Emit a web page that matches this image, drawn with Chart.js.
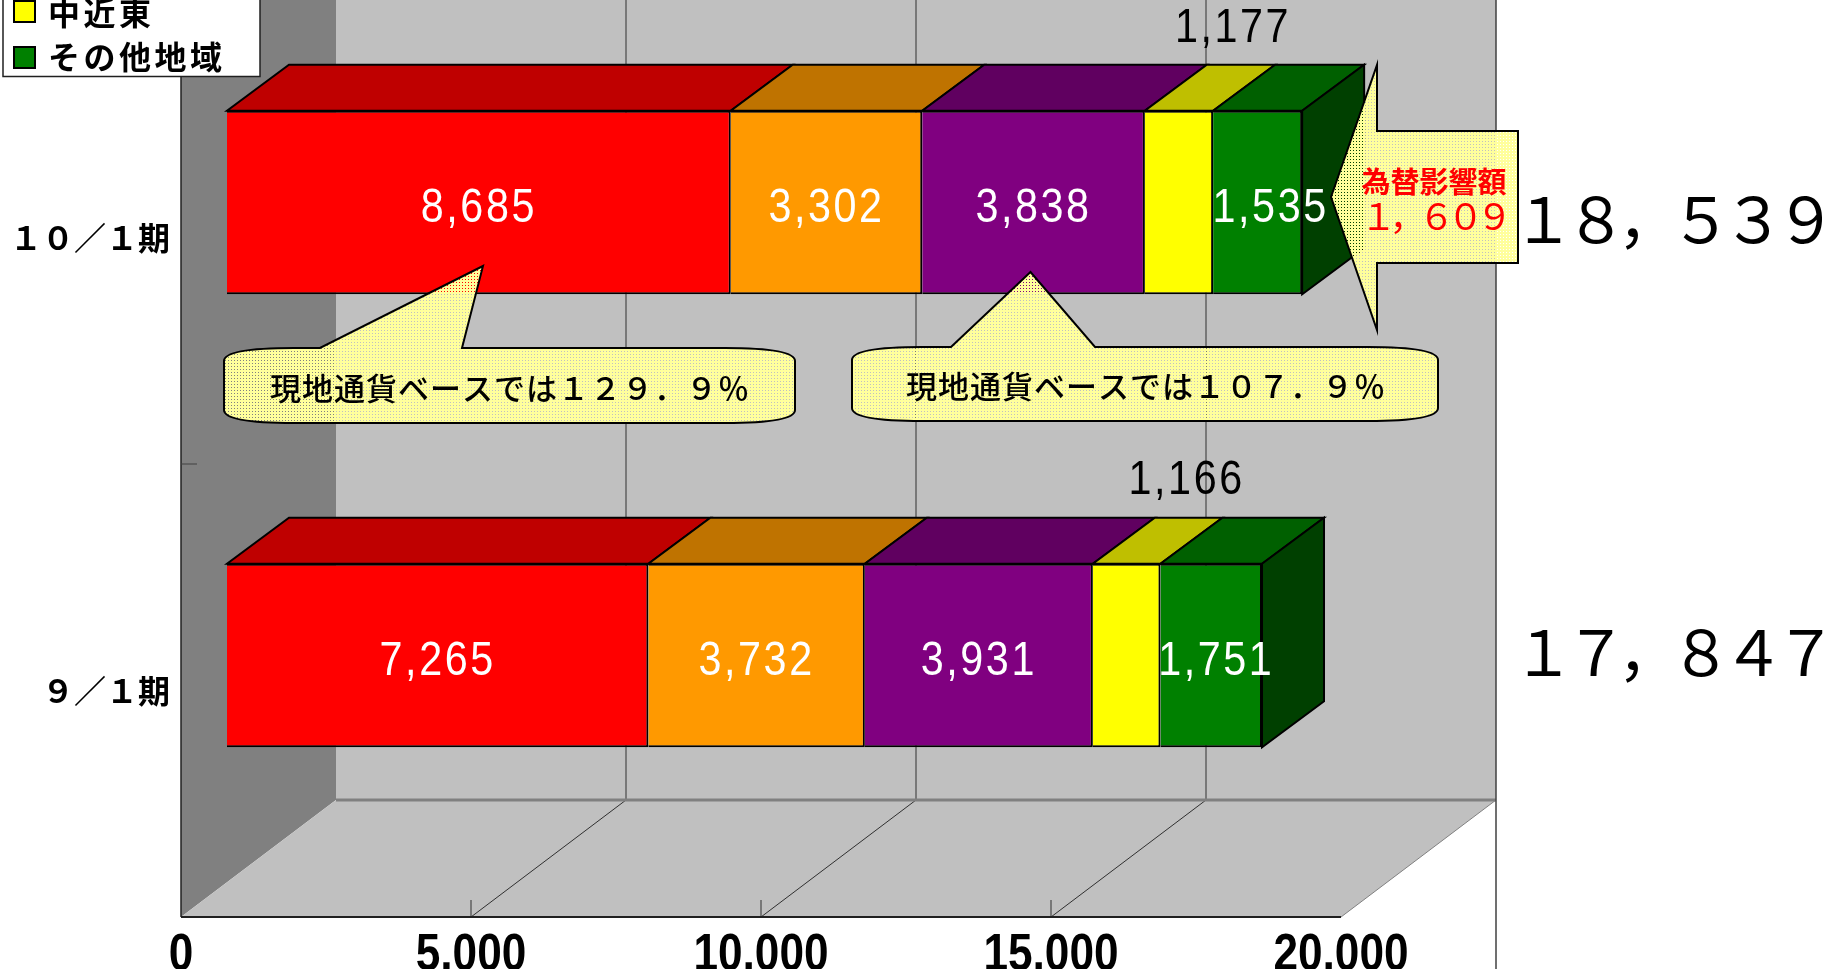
<!DOCTYPE html>
<html>
<head>
<meta charset="utf-8">
<title>chart</title>
<script src="https://cdn.jsdelivr.net/npm/chart.js@4/dist/chart.umd.min.js"></script>
<style>
  html, body { margin: 0; padding: 0; background: #fff; overflow: hidden; }
  canvas { display: block; }
</style>
</head>
<body>
<canvas id="chart" width="1843" height="969"></canvas>
<script>
const periods = ['１０／１期', '９／１期'];
const redValues = [8685, 7265];
const orangeValues = [3302, 3732];
const purpleValues = [3838, 3931];
const nearEastValues = [1177, 1166];
const otherValues = [1535, 1751];
const seriesNames = ['', '', '', '中近東', 'その他地域'];
const totals = ['１８，５３９', '１７，８４７'];
const fxTitle = '為替影響額';
const fxAmount = '１，６０９';
const noteFor10 = '現地通貨ベースでは１２９．９％';
const noteFor9 = '現地通貨ベースでは１０７．９％';
const xTicks = [0, 5000, 10000, 15000, 20000];

const faceColours = ['#FF0000', '#FF9900', '#800080', '#FFFF00', '#008000'];
const topColours = ['#BF0000', '#BF7300', '#600060', '#BFBF00', '#006000'];
const sideColour = '#004000';

// oblique projection: walls run from the front plane to the back by wallDepth,
// bars sit barOffset behind the front plane and are barDepth deep
const wallDepth = {x: 155, y: 117};
const barOffset = {x: 46, y: -35};
const barDepth = {x: 62, y: 46};

const CJK = '"Noto Sans CJK JP"';
const LATIN = '"Liberation Sans"';

// sx squeezes the glyphs sideways, the source text is taller than it is wide
function text(ctx, str, x, y, font, colour, spacing, align, sx) {
    ctx.save();
    ctx.translate(x, y);
    ctx.scale(sx || 1, 1);
    ctx.font = font;
    ctx.fillStyle = colour;
    ctx.letterSpacing = (spacing || 0) + 'px';
    ctx.textAlign = align || 'center';
    ctx.textBaseline = 'middle';
    ctx.fillText(str, 0, 0);
    ctx.restore();
}

function poly(ctx, pts, fill, stroke, width) {
    ctx.beginPath();
    pts.forEach((p, i) => i ? ctx.lineTo(p[0], p[1]) : ctx.moveTo(p[0], p[1]));
    ctx.closePath();
    if (fill) { ctx.fillStyle = fill; ctx.fill(); }
    if (stroke) { ctx.strokeStyle = stroke; ctx.lineWidth = width || 1; ctx.stroke(); }
}

function line(ctx, x1, y1, x2, y2, colour, width) {
    ctx.beginPath();
    ctx.moveTo(x1, y1);
    ctx.lineTo(x2, y2);
    ctx.strokeStyle = colour;
    ctx.lineWidth = width || 1;
    ctx.stroke();
}

// the callouts in the source are a dithered light yellow, background shows through
function ditherFill(ctx) {
    const c = document.createElement('canvas');
    c.width = c.height = 3;
    const p = c.getContext('2d');
    p.fillStyle = '#FFFF9C';
    p.fillRect(0, 0, 3, 3);
    p.clearRect(0, 0, 1, 1);
    return ctx.createPattern(c, 'repeat');
}

function drawWalls(chart) {
    const {ctx, chartArea: a, scales: {x}} = chart;
    const dx = wallDepth.x, dy = wallDepth.y;
    const farRight = a.right + dx;
    const farBottom = a.bottom - dy;

    poly(ctx, [[a.left + dx, a.top - dy], [farRight, a.top - dy], [farRight, farBottom], [a.left + dx, farBottom]], '#C0C0C0');
    poly(ctx, [[a.left, a.top], [a.left + dx, a.top - dy], [a.left + dx, farBottom], [a.left, a.bottom]], '#808080');
    poly(ctx, [[a.left, a.bottom], [a.left + dx, farBottom], [farRight, farBottom], [a.right, a.bottom]], '#C0C0C0');

    x.ticks.forEach(t => {
        const px = x.getPixelForValue(t.value);
        if (t.value > 0 && t.value < 20000) {
            line(ctx, px + dx, 0, px + dx, farBottom, '#303030');
            line(ctx, px, a.bottom, px + dx, farBottom, '#303030');
            line(ctx, px, a.bottom, px, a.bottom - 17, '#303030');
        }
    });
    line(ctx, a.left + dx, farBottom, farRight, farBottom, '#808080', 3);
    line(ctx, a.right, a.bottom, farRight, farBottom, '#808080');
    line(ctx, farRight, 0, farRight, chart.height, '#404040', 1.5);
    line(ctx, a.left, 0, a.left, a.bottom, '#202020', 1.5);
    line(ctx, a.left, a.bottom, a.right, a.bottom, '#202020', 2);
    const mid = (a.top + a.bottom) / 2;
    line(ctx, a.left, mid, a.left + 16, mid, '#404040');
}

function drawBarDepth(chart) {
    const ctx = chart.ctx;
    const n = chart.data.datasets.length;
    for (let i = 0; i < n; i++) {
        chart.getDatasetMeta(i).data.forEach(bar => {
            const top = bar.y - bar.height / 2;
            const bottom = bar.y + bar.height / 2;
            poly(ctx, [[bar.base, top], [bar.x, top], [bar.x + barDepth.x, top - barDepth.y], [bar.base + barDepth.x, top - barDepth.y]],
                topColours[i], '#000', 2);
            if (i === n - 1) {
                poly(ctx, [[bar.x, top], [bar.x + barDepth.x, top - barDepth.y], [bar.x + barDepth.x, bottom - barDepth.y], [bar.x, bottom]],
                    sideColour, '#000', 2);
            }
        });
    }
}

function drawValueLabels(chart) {
    const ctx = chart.ctx;
    const font = '48px ' + LATIN;
    // nudges for labels that were dragged by hand in the source
    const nudge = {'4-0': [13, 0], '4-1': [5, 0]};
    const above = [[54, -82], [60, -83]];
    chart.data.datasets.forEach((ds, i) => {
        chart.getDatasetMeta(i).data.forEach((bar, j) => {
            const str = ds.data[j].toLocaleString('en-US');
            if (i === 3) {
                // yellow piece is too narrow, its label stands above the bar
                const top = bar.y - bar.height / 2;
                text(ctx, str, (bar.x + bar.base) / 2 + barOffset.x + above[j][0], top + barOffset.y + above[j][1], font, '#000', 3, 'center', 0.86);
                return;
            }
            const n = nudge[i + '-' + j] || [0, 0];
            text(ctx, str, (bar.x + bar.base) / 2 + barOffset.x + n[0], bar.y + barOffset.y + 6 + n[1], font, '#fff', 3, 'center', 0.86);
        });
    });
}

function drawXTickLabels(chart) {
    const {ctx, scales: {x}, chartArea: a} = chart;
    x.ticks.forEach(t => {
        text(ctx, t.value.toLocaleString('en-US'), x.getPixelForValue(t.value), a.bottom + 39, 'bold 52px ' + LATIN, '#000', 0, 'center', 0.85);
    });
}

function roundBox(ctx, l, t, r, b, cx, cy, pointer) {
    ctx.beginPath();
    ctx.moveTo(l, t + cy);
    ctx.quadraticCurveTo(l, t, l + cx, t);
    ctx.lineTo(pointer.from, t);
    ctx.lineTo(pointer.tipX, pointer.tipY);
    ctx.lineTo(pointer.to, t);
    ctx.lineTo(r - cx, t);
    ctx.quadraticCurveTo(r, t, r, t + cy);
    ctx.lineTo(r, b - cy);
    ctx.quadraticCurveTo(r, b, r - cx, b);
    ctx.lineTo(l + cx, b);
    ctx.quadraticCurveTo(l, b, l, b - cy);
    ctx.closePath();
}

function drawCallouts(chart) {
    const ctx = chart.ctx;
    const fill = ditherFill(ctx);

    roundBox(ctx, 224, 348, 795, 423, 70, 13, {from: 320, tipX: 483, tipY: 266, to: 462});
    ctx.fillStyle = fill; ctx.fill();
    ctx.strokeStyle = '#000'; ctx.lineWidth = 2; ctx.stroke();
    text(ctx, noteFor10, 510, 388, '500 31px ' + CJK, '#000', 1);

    roundBox(ctx, 852, 347, 1438, 421, 70, 13, {from: 951, tipX: 1030.5, tipY: 272, to: 1095});
    ctx.fillStyle = fill; ctx.fill();
    ctx.strokeStyle = '#000'; ctx.lineWidth = 2; ctx.stroke();
    text(ctx, noteFor9, 1146, 386, '500 31px ' + CJK, '#000', 1);

    poly(ctx, [[1331, 197], [1377, 65], [1377, 131], [1518, 131], [1518, 263], [1377, 263], [1377, 330]], fill, '#000', 2);
    text(ctx, fxTitle, 1434, 182, 'bold 29px ' + CJK, '#FF0000', 0);
    text(ctx, fxAmount, 1433, 216, '36px ' + CJK, '#FF0000', -7);
}

function drawLegendBox(chart) {
    const ctx = chart.ctx;
    const ds = chart.data.datasets;
    poly(ctx, [[3, -4], [260, -4], [260, 76.5], [3, 76.5]], '#fff', '#202020', 1.5);
    [[3, 1, 13], [4, 47, 57]].forEach(e => {
        ctx.fillStyle = ds[e[0]].backgroundColor;
        ctx.fillRect(14, e[1], 21, 21);
        ctx.strokeStyle = '#000';
        ctx.lineWidth = 2;
        ctx.strokeRect(14, e[1], 21, 21);
        text(ctx, ds[e[0]].label, 48, e[2], 'bold 32px ' + CJK, '#000', 3.5, 'left');
    });
}

const depthPlugin = {
    id: 'depth',
    beforeDatasetsDraw(chart) {
        drawWalls(chart);
        chart.ctx.save();
        chart.ctx.translate(barOffset.x, barOffset.y);
        drawBarDepth(chart);
    },
    afterDatasetsDraw(chart) {
        chart.ctx.restore();
    },
    afterDraw(chart) {
        const ctx = chart.ctx;
        drawXTickLabels(chart);
        drawValueLabels(chart);
        drawCallouts(chart);
        text(ctx, totals[0], 1670, 219, '62px ' + CJK, '#000', -9.5);
        text(ctx, totals[1], 1670, 652, '62px ' + CJK, '#000', -9.5);
        drawLegendBox(chart);
    }
};

const seriesValues = [redValues, orangeValues, purpleValues, nearEastValues, otherValues];

new Chart(document.getElementById('chart'), {
    type: 'bar',
    data: {
        labels: periods,
        datasets: seriesValues.map((values, i) => ({
            label: seriesNames[i],
            data: values,
            backgroundColor: faceColours[i],
            borderColor: '#000',
            borderWidth: 2,
            barPercentage: 0.405,
            categoryPercentage: 1,
            clip: false
        }))
    },
    options: {
        indexAxis: 'y',
        responsive: false,
        animation: false,
        devicePixelRatio: 1,
        layout: {padding: {top: 11, right: 502, bottom: 0, left: 0}},
        plugins: {legend: {display: false}, tooltip: {enabled: false}},
        scales: {
            x: {
                stacked: true,
                min: 0,
                max: 20000,
                afterBuildTicks: scale => { scale.ticks = xTicks.map(value => ({value})); },
                afterFit: scale => { scale.height = 52; scale.paddingLeft = 0; scale.paddingRight = 0; },
                grid: {display: false, drawTicks: false},
                border: {display: false},
                ticks: {display: false}
            },
            y: {
                stacked: true,
                afterFit: scale => { scale.width = 181; scale.paddingTop = 0; scale.paddingBottom = 0; },
                grid: {display: false, drawTicks: false},
                border: {display: false},
                ticks: {
                    color: '#000',
                    padding: 11,
                    font: {family: CJK, size: 32, weight: 'bold', lineHeight: 1}
                }
            }
        }
    },
    plugins: [depthPlugin]
});
</script>
</body>
</html>
